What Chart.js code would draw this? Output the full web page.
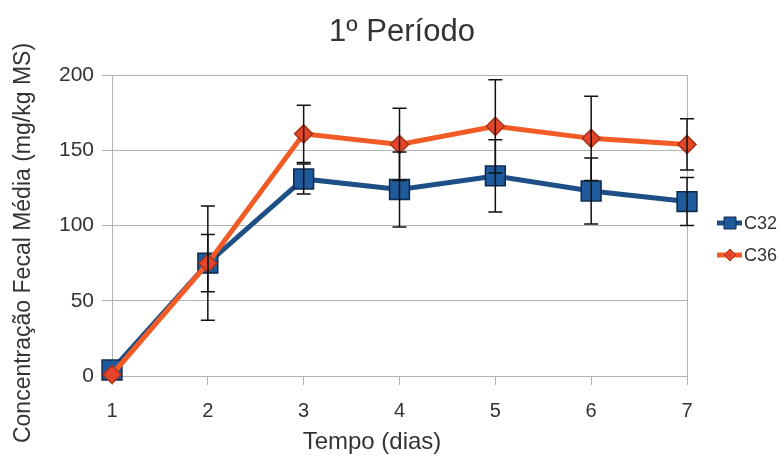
<!DOCTYPE html>
<html>
<head>
<meta charset="utf-8">
<script src="https://cdn.jsdelivr.net/npm/chart.js@4.4.1/dist/chart.umd.min.js"></script>
<style>
  html, body { margin: 0; padding: 0; background: #fff; }
  #wrap { width: 784px; height: 461px; }
</style>
</head>
<body>
<div id="wrap"><canvas id="myChart"></canvas></div>
<script>
const days = ['1', '2', '3', '4', '5', '6', '7'];
const c32Values = [4, 75, 131, 124, 133, 123, 116];
const c32Errors = [0, 19, 10, 25, 24, 22, 16];
const c36Values = [1, 75, 161, 154, 166, 158, 154];
const c36Errors = [0, 38, 19, 24, 31, 28, 17];
const yTicks = [0, 50, 100, 150, 200];

const fontFamily = '"Liberation Sans", Arial, sans-serif';
const textColor = '#333';
const gridColor = '#b3b3b3';

// error bars drawn over the series, black with short caps
const errorBars = {
    id: 'errorBars',
    afterDatasetsDraw(chart) {
        const c = chart.ctx;
        const x = chart.scales.x, y = chart.scales.y;
        c.save();
        c.strokeStyle = '#111';
        c.lineWidth = 1.5;
        chart.data.datasets.forEach((ds) => {
            ds.data.forEach((v, i) => {
                const e = ds.errors[i];
                if (!e) return;
                const px = x.getPixelForValue(i);
                const top = y.getPixelForValue(v + e);
                const bot = y.getPixelForValue(v - e);
                c.beginPath();
                c.moveTo(px, top); c.lineTo(px, bot);
                c.moveTo(px - 7, top); c.lineTo(px + 7, top);
                c.moveTo(px - 7, bot); c.lineTo(px + 7, bot);
                c.stroke();
            });
        });
        c.restore();
    }
};

// axis titles, placed by hand
const axisTitles = {
    id: 'axisTitles',
    afterDraw(chart) {
        const c = chart.ctx;
        c.save();
        c.fillStyle = textColor;
        c.textAlign = 'center';
        c.textBaseline = 'middle';
        c.font = '24px ' + fontFamily;
        c.fillText('Tempo (dias)', 372, 442);
        c.translate(24, 243);
        c.rotate(-Math.PI / 2);
        c.font = '23px ' + fontFamily;
        c.fillText('Concentração Fecal Média (mg/kg MS)', 0, 0);
        c.restore();
    }
};

// legend on the right: short line with marker, then the label
const sideLegend = {
    id: 'sideLegend',
    afterDraw(chart) {
        const c = chart.ctx;
        const x0 = chart.chartArea.right + 30;
        let y0 = 223;
        chart.data.datasets.forEach((ds) => {
            c.save();
            c.strokeStyle = ds.borderColor;
            c.lineWidth = 5;
            c.beginPath();
            c.moveTo(x0, y0); c.lineTo(x0 + 25, y0);
            c.stroke();
            c.fillStyle = ds.pointBackgroundColor;
            c.strokeStyle = ds.pointBorderColor;
            c.lineWidth = 1;
            c.beginPath();
            if (ds.pointStyle === 'rect') {
                c.rect(x0 + 7, y0 - 6, 12, 12);
            } else {
                c.moveTo(x0 + 13, y0 - 6); c.lineTo(x0 + 19, y0);
                c.lineTo(x0 + 13, y0 + 6); c.lineTo(x0 + 7, y0);
                c.closePath();
            }
            c.fill(); c.stroke();
            c.fillStyle = textColor;
            c.font = '18px ' + fontFamily;
            c.textBaseline = 'middle';
            c.fillText(ds.label, x0 + 27, y0 + 1);
            c.restore();
            y0 += 32;
        });
    }
};

new Chart(document.getElementById('myChart'), {
    type: 'line',
    data: {
        labels: days,
        datasets: [{
            label: 'C32',
            data: c32Values,
            errors: c32Errors,
            order: 2,
            borderColor: '#1d4f86',
            borderWidth: 5,
            pointStyle: 'rect',
            pointRadius: 14,
            pointBackgroundColor: '#1f5a9c',
            pointBorderColor: '#0e2a4c',
            pointBorderWidth: 1.5,
            tension: 0,
            clip: false
        }, {
            label: 'C36',
            data: c36Values,
            errors: c36Errors,
            order: 1, // drawn over C32
            borderColor: '#f25a26',
            borderWidth: 5,
            pointStyle: 'rectRot',
            pointRadius: 9,
            pointBackgroundColor: '#e5462a',
            pointBorderColor: '#a8341a',
            pointBorderWidth: 1.5,
            tension: 0,
            clip: false
        }]
    },
    options: {
        responsive: true,
        maintainAspectRatio: false,
        animation: false,
        layout: { padding: { left: 20, right: 0, top: 0, bottom: 0 } },
        plugins: {
            legend: { display: false },
            tooltip: { enabled: false },
            title: {
                display: true,
                text: '1º Período',
                color: textColor,
                font: { family: fontFamily, size: 31, weight: 'normal' },
                padding: { top: 14, bottom: 24 }
            }
        },
        scales: {
            x: {
                offset: false,
                afterFit: (axis) => { axis.height = 85; },
                grid: { display: true, drawOnChartArea: false, color: gridColor, tickLength: 9 },
                border: { color: gridColor },
                ticks: { color: textColor, font: { family: fontFamily, size: 20 }, padding: 14, maxRotation: 0 }
            },
            y: {
                min: 0,
                max: 200,
                afterBuildTicks: (axis) => { axis.ticks = yTicks.map(v => ({ value: v })); },
                afterFit: (axis) => { axis.width = 92; },
                grid: { color: gridColor, tickLength: 10 },
                border: { color: gridColor },
                ticks: { color: textColor, font: { family: fontFamily, size: 21 }, padding: 8 }
            },
            // right edge of the frame; also keeps room for the legend
            y2: {
                position: 'right',
                min: 0,
                max: 200,
                afterFit: (axis) => { axis.width = 97; },
                grid: { display: false },
                border: { color: gridColor },
                ticks: { display: false }
            }
        }
    },
    plugins: [errorBars, axisTitles, sideLegend]
});
</script>
</body>
</html>
